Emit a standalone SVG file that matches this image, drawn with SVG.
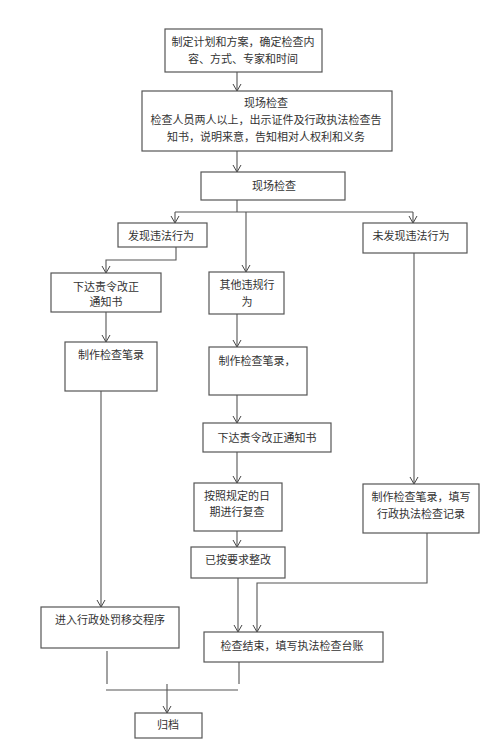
<svg xmlns="http://www.w3.org/2000/svg" width="500" height="754" viewBox="0 0 500 754">
<defs>
<marker id="arr" viewBox="-8 -5 9 10" markerWidth="9" markerHeight="10" refX="0" refY="0" orient="auto" markerUnits="userSpaceOnUse">
<path d="M-7,-4 L0,0 L-7,4" fill="none" stroke="#444" stroke-width="1"/>
</marker>
<style>
.b{fill:#fff;stroke:#555;stroke-width:1.2}
.t{font-family:"Liberation Serif","Noto Sans CJK SC",serif;font-size:11px;fill:#333;text-anchor:middle}
.c{fill:none;stroke:#555;stroke-width:1.1}
.a{marker-end:url(#arr)}
</style>
</defs>
<rect width="500" height="754" fill="#fff"/>
<g id="connectors">
<path class="c a" d="M237,72 V91"/>
<path class="c a" d="M237,151 V172"/>
<path class="c" d="M237,200 V212 M175,212 H413"/>
<path class="c a" d="M175,212 V223"/>
<path class="c a" d="M413,212 V223"/>
<path class="c a" d="M246,212 V272"/>
<path class="c a" d="M176,247 V260 H106 V273"/>
<path class="c a" d="M106,312 V342"/>
<path class="c a" d="M101,391 V607"/>
<path class="c a" d="M237,314 V347"/>
<path class="c a" d="M237,395 V423"/>
<path class="c a" d="M237,452 V483"/>
<path class="c a" d="M237,531 V547"/>
<path class="c a" d="M238,578 V632"/>
<path class="c a" d="M414,253 V484"/>
<path class="c a" d="M427,533 V583 H257 V632"/>
<path class="c" d="M107,651 V684 M239,662 V684 M106,690 H238"/>
<path class="c a" d="M167,684 V713"/>
</g>
<g id="n1"><rect class="b" x="165" y="29" width="157" height="43"/>
<text class="t" x="243" y="46">制定计划和方案，确定检查内</text>
<text class="t" x="243" y="63">容、方式、专家和时间</text></g>
<g id="n2"><rect class="b" x="142" y="91" width="250" height="60"/>
<text class="t" x="266" y="107">现场检查</text>
<text class="t" x="266" y="124">检查人员两人以上，出示证件及行政执法检查告</text>
<text class="t" x="266" y="141">知书，说明来意，告知相对人权利和义务</text></g>
<g id="n3"><rect class="b" x="201" y="172" width="144" height="28"/>
<text class="t" x="274" y="190">现场检查</text></g>
<g id="n4"><rect class="b" x="118" y="223" width="89" height="24"/>
<text class="t" x="161" y="240">发现违法行为</text></g>
<g id="n5"><rect class="b" x="363" y="223" width="104" height="30"/>
<text class="t" x="411" y="240">未发现违法行为</text></g>
<g id="n6"><rect class="b" x="51" y="273" width="110" height="39"/>
<text class="t" x="106" y="291">下达责令改正</text>
<text class="t" x="106" y="306">通知书</text></g>
<g id="n7"><rect class="b" x="209" y="272" width="75" height="42"/>
<text class="t" x="247" y="289">其他违规行</text>
<text class="t" x="247" y="306">为</text></g>
<g id="n8"><rect class="b" x="65" y="342" width="92" height="49"/>
<text class="t" x="111" y="359">制作检查笔录</text></g>
<g id="n9"><rect class="b" x="209" y="347" width="98" height="48"/>
<text class="t" x="257" y="365">制作检查笔录，</text></g>
<g id="n10"><rect class="b" x="203" y="423" width="128" height="29"/>
<text class="t" x="267" y="442">下达责令改正通知书</text></g>
<g id="n11"><rect class="b" x="194" y="483" width="88" height="48"/>
<text class="t" x="237" y="500">按照规定的日</text>
<text class="t" x="237" y="516">期进行复查</text></g>
<g id="n12"><rect class="b" x="363" y="484" width="116" height="49"/>
<text class="t" x="421" y="501">制作检查笔录，填写</text>
<text class="t" x="421" y="518">行政执法检查记录</text></g>
<g id="n13"><rect class="b" x="191" y="547" width="94" height="31"/>
<text class="t" x="238" y="564">已按要求整改</text></g>
<g id="n14"><rect class="b" x="41" y="607" width="138" height="41"/>
<text class="t" x="110" y="624">进入行政处罚移交程序</text></g>
<g id="n15"><rect class="b" x="204" y="632" width="179" height="30"/>
<text class="t" x="292" y="650">检查结束，填写执法检查台账</text></g>
<g id="n16"><rect class="b" x="135" y="713" width="67" height="25"/>
<text class="t" x="168" y="729">归档</text></g>
</svg>
